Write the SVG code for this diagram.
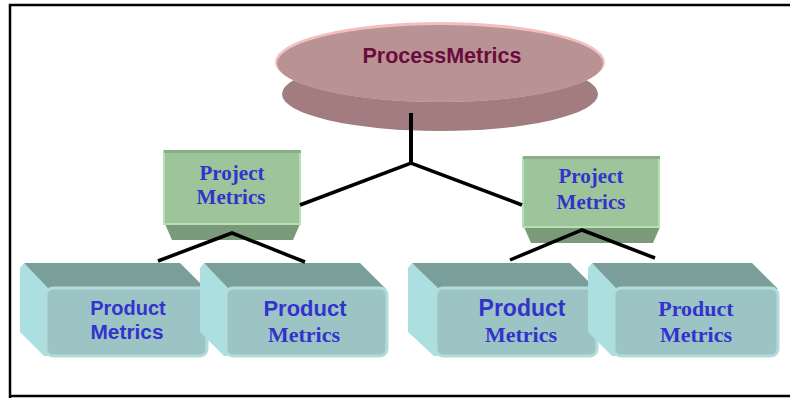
<svg xmlns="http://www.w3.org/2000/svg" width="790" height="398" viewBox="0 0 790 398">
<style>
.sans{font-family:"Liberation Sans",Arial,sans-serif;font-weight:bold;fill:#3333cc;text-anchor:middle}
.serif{font-family:"Liberation Serif","Times New Roman",serif;font-weight:bold;fill:#3333cc;text-anchor:middle}
.conn{stroke:#000;fill:none;stroke-linecap:butt}
.pfront{fill:#9dc49b;stroke:#b5e0b2;stroke-width:2}
.ptop{fill:#8cad8a}
.pbot{fill:#7b9a79}
.qtop{fill:#7a9e9a}
.qside{fill:#ace0e0}
.qfront{fill:#9cc4c4;stroke:#b2dcdc;stroke-width:3}
</style>
<rect width="790" height="398" fill="#fff"/>
<path d="M10,398 V5 H792" fill="none" stroke="#000" stroke-width="2.5"/>
<path d="M10,396 H792" fill="none" stroke="#000" stroke-width="2.5"/>

<g id="process">
<ellipse cx="440" cy="94" rx="158" ry="37" fill="#a27c7e"/>
<ellipse cx="440" cy="62" rx="165" ry="40" fill="#f2c0c0"/>
<ellipse cx="440" cy="63.5" rx="163" ry="38.5" fill="#b99393"/>
<text x="442" y="63" font-size="22" textLength="159" lengthAdjust="spacingAndGlyphs" style="font-family:'Liberation Sans',Arial,sans-serif;font-weight:bold;fill:#6b0b3c;text-anchor:middle">ProcessMetrics</text>
</g>

<g id="project1">
<polygon class="pbot" points="165,224 300,224 293,240 172,240"/>
<rect class="pfront" x="164" y="151" width="136" height="73"/>
<rect class="ptop" x="164" y="150" width="137" height="3"/>
<text class="serif" x="232" y="180" font-size="21">Project</text>
<text class="serif" x="231" y="204" font-size="21">Metrics</text>
</g>

<g id="project2">
<polygon class="pbot" points="524,227 660,227 653,243 531,243"/>
<rect class="pfront" x="523" y="158" width="136" height="69"/>
<rect class="ptop" x="523" y="156" width="137" height="3"/>
<text class="serif" x="591" y="183" font-size="21">Project</text>
<text class="serif" x="591" y="209" font-size="21">Metrics</text>
</g>

<g id="product1">
<polygon class="qtop" points="24,263 180,263 206,289 46,289"/>
<polygon class="qside" points="20,268 24,263 48,288 48,356 44,356 20,332"/>
<rect class="qfront" x="46" y="288" width="161" height="68" rx="7"/>
<text class="sans" x="128" y="315" font-size="20">Product</text>
<text class="sans" x="127" y="339" font-size="20" textLength="73" lengthAdjust="spacingAndGlyphs">Metrics</text>
</g>

<g id="product2">
<polygon class="qtop" points="204,263 360,263 386,289 226,289"/>
<polygon class="qside" points="200,268 204,263 228,288 228,356 224,356 200,332"/>
<rect class="qfront" x="226" y="288" width="161" height="68" rx="7"/>
<text class="sans" x="305" y="316" font-size="22">Product</text>
<text class="serif" x="304" y="342" font-size="22">Metrics</text>
</g>

<g id="product3">
<polygon class="qtop" points="412,263 570,263 596,289 436,289"/>
<polygon class="qside" points="408,268 412,263 438,288 438,356 434,356 408,332"/>
<rect class="qfront" x="436" y="288" width="161" height="68" rx="7"/>
<text class="sans" x="522" y="316" font-size="23">Product</text>
<text class="serif" x="521" y="342" font-size="22">Metrics</text>
</g>

<g id="product4">
<polygon class="qtop" points="592,263 752,263 778,289 614,289"/>
<polygon class="qside" points="588,268 592,263 616,288 616,356 612,356 588,332"/>
<rect class="qfront" x="614" y="288" width="164" height="68" rx="7"/>
<text class="serif" x="696" y="316" font-size="22">Product</text>
<text class="serif" x="696" y="342" font-size="22">Metrics</text>
</g>

<g id="connectors">
<path class="conn" stroke-width="4" d="M411,113 V163"/>
<path class="conn" stroke-width="3.5" d="M300,205 L411,163 L522,205"/>
<path class="conn" stroke-width="3.5" d="M158,261 L232,233 L305,262"/>
<path class="conn" stroke-width="3.5" d="M510,260 L582,230 L655,258"/>
</g>
</svg>
